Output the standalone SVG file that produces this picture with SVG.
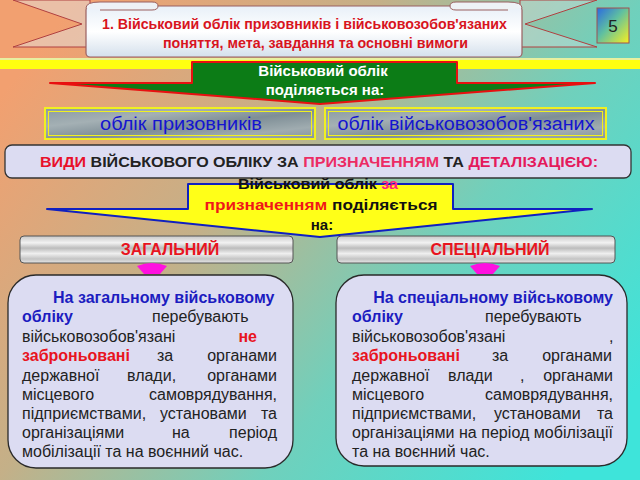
<svg xmlns="http://www.w3.org/2000/svg" width="640" height="480" viewBox="0 0 640 480">
<defs>
<linearGradient id="bg" x1="0" y1="0.2" x2="1" y2="0.8">
<stop offset="0" stop-color="#f2a070"/>
<stop offset="0.35" stop-color="#c4b088"/>
<stop offset="0.65" stop-color="#70d0bc"/>
<stop offset="1" stop-color="#3ee4da"/>
</linearGradient>
<linearGradient id="banner" x1="0" y1="0" x2="0" y2="1">
<stop offset="0" stop-color="#e8f0f8"/>
<stop offset="0.5" stop-color="#ffffff"/>
<stop offset="1" stop-color="#d4e0ec"/>
</linearGradient>
<linearGradient id="num" x1="0" y1="0" x2="1" y2="1">
<stop offset="0" stop-color="#2a6ae0"/>
<stop offset="0.45" stop-color="#60c0a0"/>
<stop offset="1" stop-color="#f8f020"/>
</linearGradient>
<linearGradient id="slate" x1="0" y1="0" x2="1" y2="1">
<stop offset="0" stop-color="#8a9aa2"/>
<stop offset="0.3" stop-color="#a4b0b4"/>
<stop offset="0.55" stop-color="#7e8e96"/>
<stop offset="0.8" stop-color="#a0acb0"/>
<stop offset="1" stop-color="#8494a0"/>
</linearGradient>
<linearGradient id="marble" x1="0" y1="0" x2="0" y2="1">
<stop offset="0" stop-color="#c8c8c8"/>
<stop offset="0.25" stop-color="#f2f2f2"/>
<stop offset="0.45" stop-color="#bcbcbc"/>
<stop offset="0.65" stop-color="#efefef"/>
<stop offset="0.85" stop-color="#c4c4c4"/>
<stop offset="1" stop-color="#e6e6e6"/>
</linearGradient>
<style>
.t{font-family:"Liberation Sans",Arial,sans-serif}
.body{font-family:"Liberation Sans",Arial,sans-serif;font-size:16px;fill:#222}
.bb{font-weight:bold;fill:#1c1cc0}
.br{font-weight:bold;fill:#e8141e}
.end{text-anchor:end}
.mid{text-anchor:middle}
.card{fill:#dcdcf2;stroke:#2a2a2a;stroke-width:1.3}
.slab{fill:url(#marble);stroke:#555;stroke-width:1}
.mag{fill:#ff10e0}
</style>
</defs>
<rect width="640" height="480" fill="url(#bg)"/>

<g id="title">
<polygon points="13,0 90,0 90,47 13,47 82,24" fill="#dfe6ec" fill-opacity="0.45" stroke="#b04040" stroke-width="1"/>
<polygon points="597,0 520,0 520,47 597,47 525,24" fill="#dfe6ec" fill-opacity="0.35" stroke="#b04040" stroke-width="1"/>
<rect x="86" y="6" width="436" height="51" rx="4" fill="url(#banner)" stroke="#9a6060" stroke-width="1.2"/>
<path d="M86,8 Q86,2 100,2 L152,2 Q158,2 158,6 Q158,10 152,10 L100,10" fill="#eef2f6" stroke="#9a6060" stroke-width="1"/>
<path d="M522,8 Q522,2 508,2 L456,2 Q450,2 450,6 Q450,10 456,10 L508,10" fill="#eef2f6" stroke="#9a6060" stroke-width="1"/>
<text class="t mid" x="304.5" y="29" font-size="14" font-weight="bold" fill="#d8141e" textLength="405" lengthAdjust="spacingAndGlyphs">1. Військовий облік призовників і військовозобов'язаних</text>
<text class="t mid" x="315.5" y="48" font-size="14" font-weight="bold" fill="#d8141e" textLength="305" lengthAdjust="spacingAndGlyphs">поняття, мета, завдання та основні вимоги</text>
</g>

<g id="page-number">
<rect x="597" y="8" width="32" height="35" fill="url(#num)" stroke="#a05050" stroke-width="1"/>
<text class="t mid" x="613" y="32" font-size="17" fill="#222">5</text>
</g>

<rect x="0" y="59" width="640" height="10" fill="#ffff10"/>
<rect x="0" y="58" width="640" height="2" fill="#e8f0a0"/>

<g id="split-arrow">
<polygon points="192,62 457,62 457,83 595,83 320,104 50,83 192,83" fill="#0c7c16" stroke="#e81010" stroke-width="2" stroke-linejoin="round"/>
<text class="t mid" x="323" y="76" font-size="15" font-weight="bold" fill="#ffffff">Військовий облік</text>
<text class="t mid" x="325" y="95" font-size="15" font-weight="bold" fill="#ffffff">поділяється на:</text>
</g>

<g id="conscripts">
<rect x="45" y="108" width="270" height="31" fill="url(#slate)" stroke="#f0f020" stroke-width="2"/>
<rect x="48.5" y="111.5" width="263" height="24" fill="none" stroke="#f0f020" stroke-width="1"/>
<text class="t mid" x="181" y="130" font-size="18" fill="#1414d0" textLength="162" lengthAdjust="spacingAndGlyphs">облік призовників</text>
</g>
<g id="reservists">
<rect x="325" y="108" width="281" height="31" fill="url(#slate)" stroke="#f0f020" stroke-width="2"/>
<rect x="328.5" y="111.5" width="274" height="24" fill="none" stroke="#f0f020" stroke-width="1"/>
<text class="t mid" x="466" y="130" font-size="18" fill="#1414d0" textLength="257" lengthAdjust="spacingAndGlyphs">облік військовозобов'язаних</text>
</g>

<g id="types-band">
<rect x="5" y="145" width="626" height="33" rx="7" fill="#dcdcf2" stroke="#333" stroke-width="1.3"/>
<text class="t mid" x="319" y="167" font-size="15" font-weight="bold" fill="#222" textLength="558" lengthAdjust="spacingAndGlyphs"><tspan fill="#e8102a">ВИДИ</tspan> ВІЙСЬКОВОГО ОБЛІКУ ЗА <tspan fill="#ec2c64">ПРИЗНАЧЕННЯМ</tspan> ТА <tspan fill="#e41a5c">ДЕТАЛІЗАЦІЄЮ:</tspan></text>
</g>

<g id="purpose-arrow">
<polygon points="188,184 453,184 453,209 592,209 320,237 47,209 188,209" fill="#ffff18" stroke="#1020c0" stroke-width="2" stroke-linejoin="round"/>
<text class="t mid" x="318" y="189" font-size="15" font-weight="bold" fill="#111" textLength="160" lengthAdjust="spacingAndGlyphs">Військовий облік <tspan fill="#ff2080">за</tspan></text>
<text class="t mid" x="321" y="210" font-size="15" font-weight="bold" fill="#111" textLength="233" lengthAdjust="spacingAndGlyphs"><tspan fill="#f01818">призначенням</tspan> поділяється</text>
<text class="t mid" x="322" y="230" font-size="15" font-weight="bold" fill="#111">на:</text>
</g>

<g id="general">
<rect class="slab" x="20" y="236" width="273" height="27" rx="4"/>
<text class="t mid" x="170" y="255" font-size="16" font-weight="bold" fill="#e8141e">ЗАГАЛЬНИЙ</text>
</g>
<g id="special">
<rect class="slab" x="337" y="236" width="278" height="27" rx="4"/>
<text class="t mid" x="490" y="255" font-size="16" font-weight="bold" fill="#e8141e">СПЕЦІАЛЬНИЙ</text>
</g>

<g id="connectors">
<path class="mag" d="M137,266 Q152,260 167,266 L160,274 L144,274 Z"/>
<path class="mag" d="M470,266 Q485,260 500,266 L493,274 L477,274 Z"/>
</g>

<g id="general-text">
<rect class="card" x="8" y="275" width="285" height="193" rx="28"/>
<text class="body bb" x="53" y="303">На загальному військовому</text>
<text class="body bb" x="22" y="322">обліку</text>
<text class="body" x="152" y="322">перебувають</text>
<text class="body" x="22" y="342">військовозобов'язані</text>
<text class="body br end" x="257" y="342">не</text>
<text class="body br" x="22" y="361">заброньовані</text>
<text class="body" x="157" y="361">за</text>
<text class="body end" x="277" y="361">органами</text>
<text class="body" x="22" y="381">державної</text>
<text class="body" x="127" y="381">влади,</text>
<text class="body end" x="277" y="381">органами</text>
<text class="body" x="22" y="400">місцевого</text>
<text class="body end" x="277" y="400">самоврядування,</text>
<text class="body" x="22" y="419">підприємствами,</text>
<text class="body" x="160" y="419">установами</text>
<text class="body end" x="277" y="419">та</text>
<text class="body" x="22" y="438">організаціями</text>
<text class="body" x="172" y="438">на</text>
<text class="body end" x="277" y="438">період</text>
<text class="body" x="22" y="457">мобілізації та на воєнний час.</text>
</g>

<g id="special-text">
<rect class="card" x="336" y="275" width="291" height="191" rx="28"/>
<text class="body bb end" x="613" y="303">На спеціальному військовому</text>
<text class="body bb" x="352" y="322">обліку</text>
<text class="body" x="485" y="322">перебувають</text>
<text class="body" x="352" y="342">військовозобов'язані</text>
<text class="body" x="609" y="342">,</text>
<text class="body br" x="352" y="361">заброньовані</text>
<text class="body" x="492" y="361">за</text>
<text class="body end" x="612" y="361">органами</text>
<text class="body" x="352" y="381">державної</text>
<text class="body" x="448" y="381">влади</text>
<text class="body" x="520" y="381">,</text>
<text class="body end" x="613" y="381">органами</text>
<text class="body" x="352" y="400">місцевого</text>
<text class="body end" x="613" y="400">самоврядування,</text>
<text class="body" x="352" y="419">підприємствами,</text>
<text class="body" x="494" y="419">установами</text>
<text class="body end" x="613" y="419">та</text>
<text class="body" x="352" y="438" textLength="261" lengthAdjust="spacing">організаціями на період мобілізації</text>
<text class="body" x="352" y="457">та на воєнний час.</text>
</g>
</svg>
